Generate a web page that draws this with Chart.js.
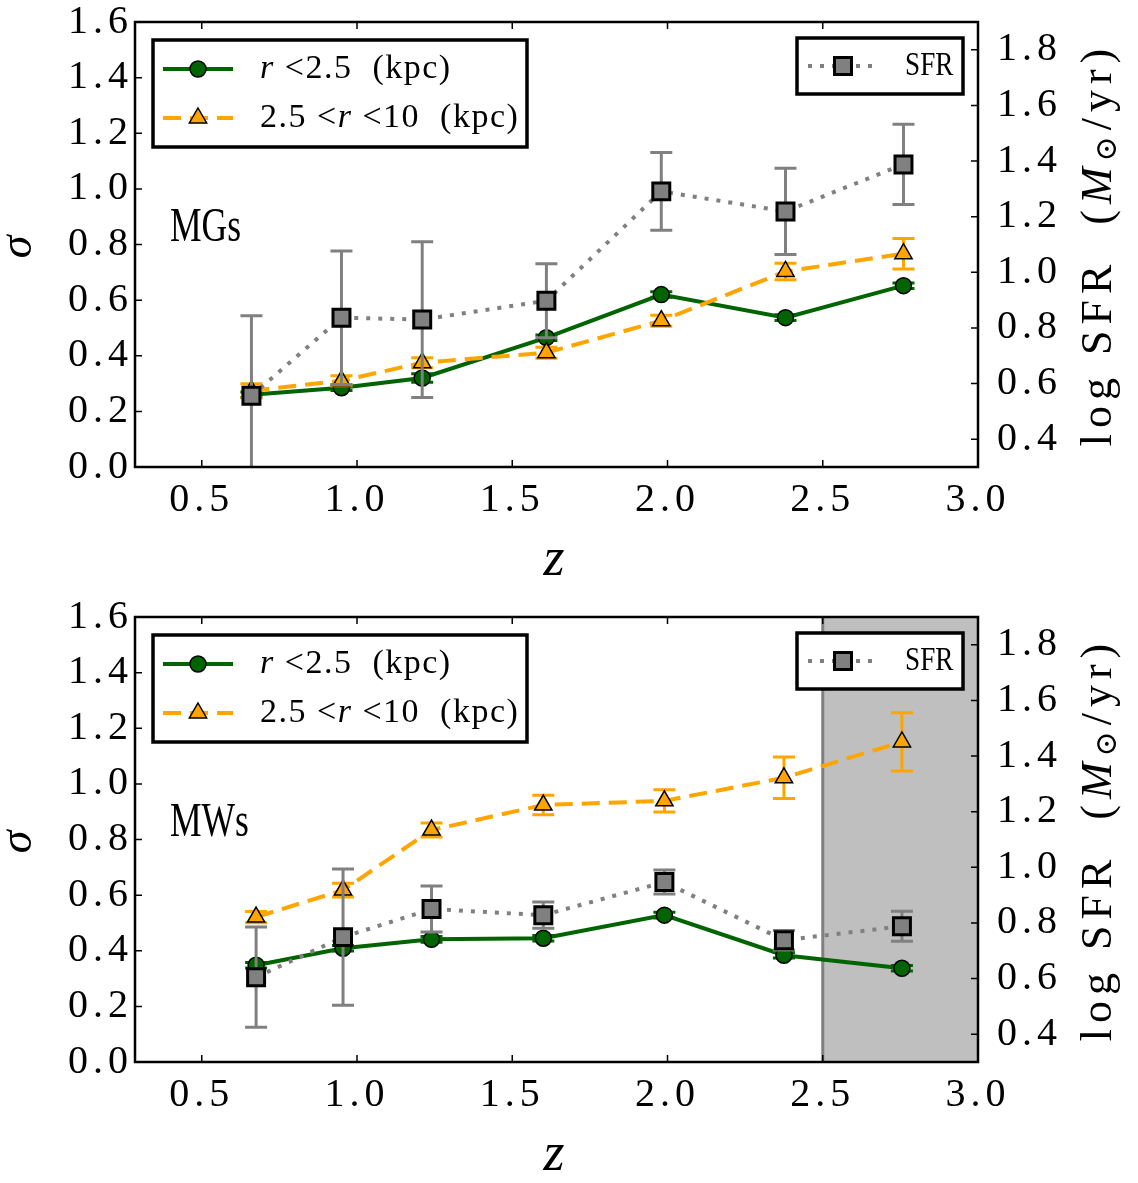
<!DOCTYPE html>
<html>
<head>
<meta charset="utf-8">
<script src="https://cdn.jsdelivr.net/npm/chart.js@4.4.0/dist/chart.umd.min.js"></script>
<style>
html, body { margin: 0; padding: 0; background: #fff; overflow: hidden; }
canvas { display: block; position: absolute; left: 0; }
#chartMG { top: 0; }
#chartMW { top: 595px; }
</style>
</head>
<body>
<canvas id="chartMG" width="1138" height="595"></canvas>
<canvas id="chartMW" width="1138" height="595"></canvas>
<script>
var xTicks = [0.5, 1.0, 1.5, 2.0, 2.5, 3.0];
var sigmaTicks = [0.0, 0.2, 0.4, 0.6, 0.8, 1.0, 1.2, 1.4, 1.6];
var sfrTicks = [0.4, 0.6, 0.8, 1.0, 1.2, 1.4, 1.6, 1.8];

// MGs panel
var zMG = [0.66, 0.95, 1.21, 1.61, 1.98, 2.38, 2.76];
var sigInMG = [0.26, 0.285, 0.32, 0.465, 0.62, 0.537, 0.652];
var errInMG = [0.01, 0.01, 0.015, 0.01, 0.01, 0.01, 0.01];
var sigOutMG = [0.274, 0.31, 0.375, 0.411, 0.526, 0.703, 0.767];
var errOutMG = [0.025, 0.018, 0.018, 0.02, 0.02, 0.03, 0.055];
var sfrMG = [0.556, 0.837, 0.830, 0.898, 1.291, 1.219, 1.388];
var errSfrMG = [0.288, 0.24, 0.28, 0.133, 0.14, 0.155, 0.144];

// MWs panel
var zMW = [0.675, 0.955, 1.24, 1.60, 1.99, 2.375, 2.755];
var sigInMW = [0.348, 0.409, 0.441, 0.445, 0.528, 0.384, 0.337];
var errInMW = [0.01, 0.01, 0.01, 0.01, 0.01, 0.01, 0.01];
var sigOutMW = [0.521, 0.618, 0.834, 0.924, 0.939, 1.022, 1.151];
var errOutMW = [0.02, 0.025, 0.025, 0.035, 0.04, 0.075, 0.105];
var sfrMW = [0.605, 0.749, 0.850, 0.828, 0.947, 0.738, 0.788];
var errSfrMW = [0.18, 0.245, 0.083, 0.047, 0.043, 0.035, 0.054];
var shadeMW = [2.5, 3.0];

var serif = "'Liberation Serif', 'DejaVu Serif', serif";
var green = '#006400', orange = '#ffa500', grey = '#808080';

function pts(z, v) {
    return z.map(function (x, i) { return { x: x, y: v[i] }; });
}

function marker(ctx, style, x, y, r, fill, bw) {
    ctx.save();
    ctx.setLineDash([]);
    ctx.fillStyle = fill;
    ctx.strokeStyle = '#000';
    ctx.lineWidth = bw;
    ctx.beginPath();
    if (style == 'circle') {
        ctx.arc(x, y, r, 0, Math.PI * 2);
    } else if (style == 'triangle') {
        ctx.moveTo(x, y - r);
        ctx.lineTo(x + r * 0.866, y + r * 0.5);
        ctx.lineTo(x - r * 0.866, y + r * 0.5);
        ctx.closePath();
    } else {
        var s = r * Math.SQRT1_2;
        ctx.rect(x - s, y - s, 2 * s, 2 * s);
    }
    ctx.fill();
    ctx.stroke();
    ctx.restore();
}

function segs(ctx, x, y, parts) {
    var w = 0;
    parts.forEach(function (p) { ctx.font = p.f; w += ctx.measureText(p.t).width; });
    parts.forEach(function (p) {
        ctx.font = p.f;
        ctx.fillText(p.t, x, y + (p.dy || 0));
        x += ctx.measureText(p.t).width;
    });
    return w;
}

function drawErrors(chart, ds, meta) {
    if (!ds.errs) return;
    var ctx = chart.ctx, a = chart.chartArea;
    var xs = chart.scales[meta.xAxisID], ys = chart.scales[meta.yAxisID];
    ctx.save();
    ctx.beginPath();
    ctx.rect(a.left, a.top, a.right - a.left, a.bottom - a.top);
    ctx.clip();
    ctx.strokeStyle = ds.errColor;
    ctx.lineWidth = 3;
    ctx.setLineDash([]);
    ds.data.forEach(function (p, i) {
        var px = xs.getPixelForValue(p.x);
        var top = ys.getPixelForValue(p.y + ds.errs[i]);
        var bot = ys.getPixelForValue(p.y - ds.errs[i]);
        ctx.beginPath();
        ctx.moveTo(px, top); ctx.lineTo(px, bot);
        ctx.moveTo(px - 11, top); ctx.lineTo(px + 11, top);
        ctx.moveTo(px - 11, bot); ctx.lineTo(px + 11, bot);
        ctx.stroke();
    });
    ctx.restore();
}

function legendRow(ctx, x1, x2, y, ds) {
    ctx.save();
    ctx.strokeStyle = ds.borderColor;
    ctx.lineWidth = ds.borderWidth;
    ctx.setLineDash(ds.borderDash || []);
    ctx.beginPath();
    ctx.moveTo(x1, y);
    ctx.lineTo(x2, y);
    ctx.stroke();
    ctx.restore();
    marker(ctx, ds.pointStyle, (x1 + x2) / 2, y, ds.pointRadius, ds.pointBackgroundColor, ds.pointBorderWidth);
}

function noPad(s) {
    s.paddingTop = 0;
    s.paddingBottom = 0;
    s.paddingLeft = 0;
    s.paddingRight = 0;
}

var decor = {
    id: 'panelDecor',
    beforeDraw: function (chart) {
        chart.ctx.letterSpacing = '5px';
    },
    beforeDatasetsDraw: function (chart, args, opts) {
        if (!opts.shade) return;
        var ctx = chart.ctx, a = chart.chartArea, x = chart.scales.x;
        var x1 = x.getPixelForValue(opts.shade[0]), x2 = x.getPixelForValue(opts.shade[1]);
        ctx.save();
        ctx.fillStyle = '#bfbfbf';
        ctx.fillRect(x1, a.top, x2 - x1, a.bottom - a.top);
        ctx.strokeStyle = grey;
        ctx.lineWidth = 3;
        ctx.beginPath();
        ctx.moveTo(x1, a.top);
        ctx.lineTo(x1, a.bottom);
        ctx.stroke();
        ctx.restore();
    },
    beforeDatasetDraw: function (chart, args) {
        drawErrors(chart, chart.data.datasets[args.index], args.meta);
    },
    afterDraw: function (chart, args, opts) {
        var ctx = chart.ctx, a = chart.chartArea;
        var x = chart.scales.x, y = chart.scales.y, y2 = chart.scales.y2;
        var ds = chart.data.datasets;
        ctx.save();
        ctx.letterSpacing = '0px';

        // inward ticks and frame
        ctx.strokeStyle = '#000';
        ctx.lineWidth = 1.5;
        ctx.beginPath();
        x.ticks.forEach(function (t) {
            var px = x.getPixelForValue(t.value);
            ctx.moveTo(px, a.bottom); ctx.lineTo(px, a.bottom - 7);
            ctx.moveTo(px, a.top); ctx.lineTo(px, a.top + 7);
        });
        y.ticks.forEach(function (t) {
            var py = y.getPixelForValue(t.value);
            ctx.moveTo(a.left, py); ctx.lineTo(a.left + 7, py);
        });
        y2.ticks.forEach(function (t) {
            var py = y2.getPixelForValue(t.value);
            ctx.moveTo(a.right, py); ctx.lineTo(a.right - 7, py);
        });
        ctx.stroke();
        ctx.lineWidth = 2.5;
        ctx.strokeRect(a.left, a.top, a.right - a.left, a.bottom - a.top);

        // legends
        var reg = '34px ' + serif, ita = 'italic 34px ' + serif;
        ctx.fillStyle = '#fff';
        ctx.fillRect(a.left + 18, a.top + 18, 374, 107);
        ctx.fillRect(a.right - 181, a.top + 16, 166, 56);
        ctx.lineWidth = 3.5;
        ctx.strokeRect(a.left + 18, a.top + 18, 374, 107);
        ctx.strokeRect(a.right - 181, a.top + 16, 166, 56);
        legendRow(ctx, a.left + 28, a.left + 98, a.top + 47, ds[0]);
        legendRow(ctx, a.left + 28, a.left + 98, a.top + 96, ds[1]);
        legendRow(ctx, a.right - 170, a.right - 100, a.top + 44, ds[2]);
        ctx.fillStyle = '#000';
        ctx.textBaseline = 'middle';
        ctx.textAlign = 'left';
        ctx.letterSpacing = '1.5px';
        segs(ctx, a.left + 125, a.top + 47, [{ t: 'r', f: ita }, { t: ' <2.5  (kpc)', f: reg }]);
        segs(ctx, a.left + 125, a.top + 96, [{ t: '2.5 <', f: reg }, { t: 'r', f: ita }, { t: ' <10  (kpc)', f: reg }]);
        ctx.save();
        ctx.letterSpacing = '0px';
        ctx.translate(a.right - 73, a.top + 44);
        ctx.scale(0.8, 1);
        segs(ctx, 0, 0, [{ t: 'SFR', f: '34px ' + serif }]);
        ctx.restore();

        // panel label
        ctx.save();
        ctx.letterSpacing = '0px';
        ctx.translate(a.left + 35, a.top + 206);
        ctx.scale(0.74, 1);
        ctx.font = '48px ' + serif;
        ctx.fillText(opts.label, 0, 0);
        ctx.restore();

        // right axis title
        ctx.save();
        ctx.letterSpacing = '6px';
        ctx.translate(1099, (a.top + a.bottom) / 2);
        ctx.rotate(-Math.PI / 2);
        var parts = [
            { t: 'log SFR  (', f: '44px ' + serif },
            { t: 'M', f: 'italic 44px ' + serif },
            { t: '⊙', f: '30px ' + serif, dy: 9 },
            { t: '/yr)', f: '44px ' + serif }
        ];
        var w = 0;
        parts.forEach(function (p) { ctx.font = p.f; w += ctx.measureText(p.t).width; });
        segs(ctx, -w / 2, 0, parts);
        ctx.restore();

        ctx.restore();
    }
};

function makePanel(id, label, z, sigIn, errIn, sigOut, errOut, sfr, errSfr, shade) {
    var tickFont = { family: serif, size: 40, lineHeight: 1.0 };
    return new Chart(document.getElementById(id), {
        type: 'line',
        data: {
            datasets: [{
                label: 'r<2.5 (kpc)',
                data: pts(z, sigIn),
                yAxisID: 'y',
                borderColor: green,
                borderWidth: 4,
                pointStyle: 'circle',
                pointRadius: 8,
                pointBackgroundColor: green,
                pointBorderColor: '#000',
                pointBorderWidth: 1.5,
                errs: errIn,
                errColor: green,
                order: 2
            }, {
                label: '2.5<r<10 (kpc)',
                data: pts(z, sigOut),
                yAxisID: 'y',
                borderColor: orange,
                borderWidth: 4,
                borderDash: [18, 9],
                pointStyle: 'triangle',
                pointRadius: 10,
                pointBackgroundColor: orange,
                pointBorderColor: '#000',
                pointBorderWidth: 1.5,
                errs: errOut,
                errColor: orange,
                order: 1
            }, {
                label: 'SFR',
                data: pts(z, sfr),
                yAxisID: 'y2',
                borderColor: grey,
                borderWidth: 4,
                borderDash: [4, 8],
                pointStyle: 'rect',
                pointRadius: 12,
                pointBackgroundColor: grey,
                pointBorderColor: '#000',
                pointBorderWidth: 3,
                errs: errSfr,
                errColor: grey,
                order: 0
            }]
        },
        options: {
            responsive: false,
            animation: false,
            layout: { padding: { top: 22, left: 0, right: 0, bottom: 0 } },
            plugins: {
                legend: { display: false },
                tooltip: { enabled: false },
                panelDecor: { label: label, shade: shade }
            },
            scales: {
                x: {
                    type: 'linear',
                    min: 0.285,
                    max: 3.0,
                    afterBuildTicks: function (s) { s.ticks = xTicks.map(function (v) { return { value: v }; }); },
                    afterFit: function (s) { s.height = 128; noPad(s); },
                    grid: { display: false, drawTicks: false },
                    border: { display: false },
                    ticks: {
                        font: tickFont, color: '#000', padding: 13, maxRotation: 0, autoSkip: false,
                        callback: function (v) { return v.toFixed(1); }
                    },
                    title: {
                        display: true, text: 'z', color: '#000',
                        font: { family: serif, size: 54, style: 'italic' },
                        padding: { top: 0, bottom: 2 }
                    }
                },
                y: {
                    position: 'left',
                    min: 0,
                    max: 1.6,
                    afterBuildTicks: function (s) { s.ticks = sigmaTicks.map(function (v) { return { value: v }; }); },
                    afterFit: function (s) { s.width = 135; noPad(s); },
                    grid: { display: false, drawTicks: false },
                    border: { display: false },
                    ticks: {
                        font: tickFont, color: '#000', padding: 2, autoSkip: false,
                        callback: function (v) { return v.toFixed(1); }
                    },
                    title: {
                        display: true, text: 'σ', color: '#000',
                        font: { family: serif, size: 46, style: 'italic' },
                        padding: { top: -9, bottom: 0 }
                    }
                },
                y2: {
                    position: 'right',
                    min: 0.3,
                    max: 1.9,
                    afterBuildTicks: function (s) { s.ticks = sfrTicks.map(function (v) { return { value: v }; }); },
                    afterFit: function (s) { s.width = 160; noPad(s); },
                    grid: { display: false, drawTicks: false },
                    border: { display: false },
                    ticks: {
                        font: tickFont, color: '#000', padding: 19, autoSkip: false,
                        callback: function (v) { return v.toFixed(1); }
                    }
                }
            }
        },
        plugins: [decor]
    });
}

var chartMG = makePanel('chartMG', 'MGs', zMG, sigInMG, errInMG, sigOutMG, errOutMG, sfrMG, errSfrMG, null);
var chartMW = makePanel('chartMW', 'MWs', zMW, sigInMW, errInMW, sigOutMW, errOutMW, sfrMW, errSfrMW, shadeMW);
</script>
</body>
</html>
